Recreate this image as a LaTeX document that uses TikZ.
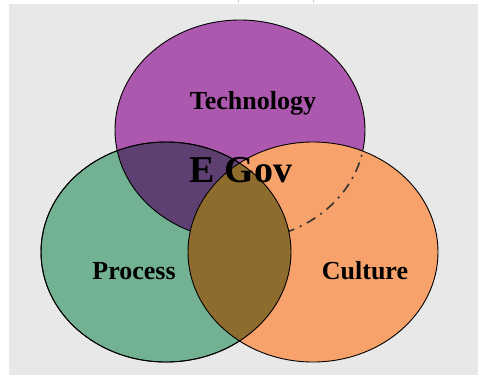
\documentclass[tikz,border=0pt]{standalone}
\usepackage{fontspec}
\setmainfont{Liberation Serif}
\usetikzlibrary{positioning}

\definecolor{techcol}{HTML}{AC58AE}
\definecolor{proccol}{HTML}{72B292}
\definecolor{cultcol}{HTML}{F6A26A}
\definecolor{tpcol}{HTML}{5E3F72}
\definecolor{pccol}{HTML}{8E6C2E}
\definecolor{backcol}{HTML}{E8E8E8}

\begin{document}
\begin{tikzpicture}[x=1pt,y=-1pt,
  ring/.style={x radius=125pt,y radius=110pt},
  rim/.style={draw=black,line width=0.9pt},
  lab/.style={font=\bfseries\fontsize{26}{26}\selectfont,anchor=base,inner sep=0pt},
  biglab/.style={font=\bfseries\fontsize{38}{38}\selectfont,anchor=base,inner sep=0pt}]

 \useasboundingbox (0,0) rectangle (478,375);
 \fill[backcol] (9,4) rectangle (478,375);
 \draw[gray!40] (238,0) -- (238,3) (313,0) -- (313,3);

 \coordinate (tech) at (240,130);
 \coordinate (proc) at (166,252);
 \coordinate (cult) at (313,252);

 \fill[techcol] (tech) ellipse [ring];
 \fill[proccol] (proc) ellipse [ring];
 \begin{scope}
  \clip (tech) ellipse [ring];
  \fill[tpcol] (proc) ellipse [ring];
 \end{scope}
 \draw[rim] (tech) ellipse [ring];
 \draw[rim] (proc) ellipse [ring];

 \fill[cultcol] (cult) ellipse [ring];
 \begin{scope}
  \clip (cult) ellipse [ring];
  \draw[line width=1.6pt,draw=black!80,dash pattern=on 10pt off 6pt on 2pt off 6pt]
   (tech) ellipse [ring];
  \fill[pccol] (proc) ellipse [ring];
 \end{scope}
 \draw[rim] (proc) ellipse [ring];
 \draw[rim] (cult) ellipse [ring];

 \node[lab] (labtech) at (253,109) {Technology};
 \node[biglab] (labegov) at (241,182) {E Gov};
 \node[lab] (labproc) at (134,279) {Process};
 \node[lab] (labcult) at (365,279) {Culture};
\end{tikzpicture}
\end{document}
